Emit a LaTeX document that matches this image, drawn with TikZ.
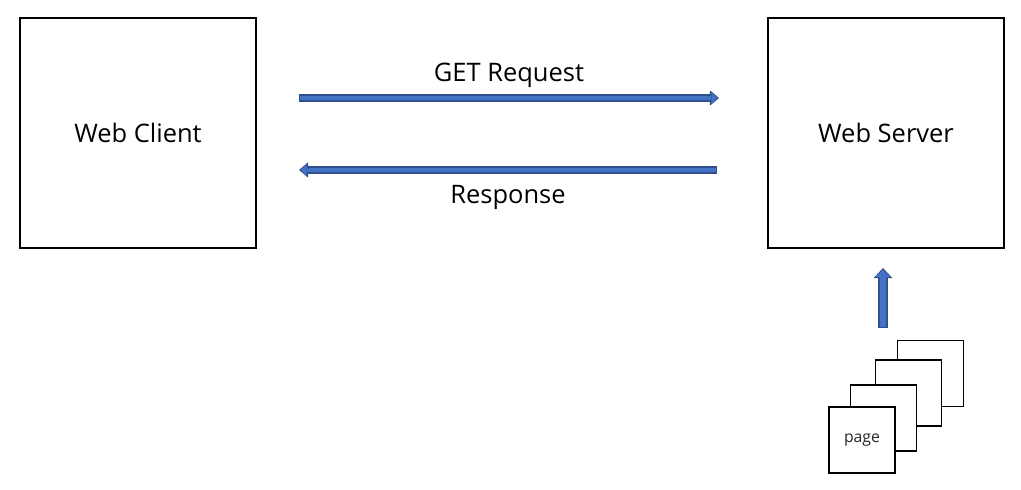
\documentclass[tikz,border=0pt]{standalone}
\usepackage{fontspec}
\setmainfont{Open Sans}
\usetikzlibrary{arrows.meta}
\definecolor{flowfill}{HTML}{4472C4}
\definecolor{flowline}{HTML}{2F528F}
\tikzset{
	box/.style = {draw, line width=1.1pt, minimum width=4.72cm, minimum height=4.6cm},
	page/.style = {draw, fill=white, line width=1.05pt, minimum size=1.32cm, text=black!85, font=\fontsize{9}{11}\selectfont},
	flow/.style = {draw=flowfill, line width=2.2pt, shorten <=0.8pt, shorten >=1pt,
		-{Triangle[length=3.4pt, width=6.4pt, line width=0pt]},
		preaction={draw=flowline, line width=4pt, shorten <=0pt, shorten >=0pt,
			-{Triangle[length=5.2pt, width=8.8pt, line width=0pt]}}},
	upflow/.style = {draw=flowfill, line width=3.9pt, shorten <=0.8pt, shorten >=1pt,
		-{Triangle[length=4.2pt, width=8.6pt, line width=0pt]},
		preaction={draw=flowline, line width=5.7pt, shorten <=0pt, shorten >=0pt,
			-{Triangle[length=5.8pt, width=10.8pt, line width=0pt]}}},
}

\begin{document}
\begin{tikzpicture}[x=0.02cm, y=-0.02cm, font=\fontsize{14.5}{17}\selectfont]
	\useasboundingbox (0,0) rectangle (1021,490);

	% client and server
	\node [box] (client) at (138,133) {Web Client};
	\node [box] (server) at (886,133) {Web Server};

	% request and response
	\coordinate (req from) at (299,98);
	\coordinate (req to) at (719,98);
	\draw [flow] (req from) -- (req to) node [midway, above = 1.6pt] {GET Request};
	\coordinate (resp from) at (717,170);
	\coordinate (resp to) at (299,170);
	\draw [flow] (resp from) -- (resp to) node [midway, below = 4.5pt] {Response};

	% stack of pages
	\node [page] (page4) at (930.5,373.5) {};
	\node [page] (page3) at (908.5,393) {};
	\node [page] (page2) at (883.5,418) {};
	\node [page] (page1) at (862,440) {page};

	\coordinate (up from) at (883,328);
	\coordinate (up to) at (883,268);
	\draw [upflow] (up from) -- (up to);
\end{tikzpicture}
\end{document}
